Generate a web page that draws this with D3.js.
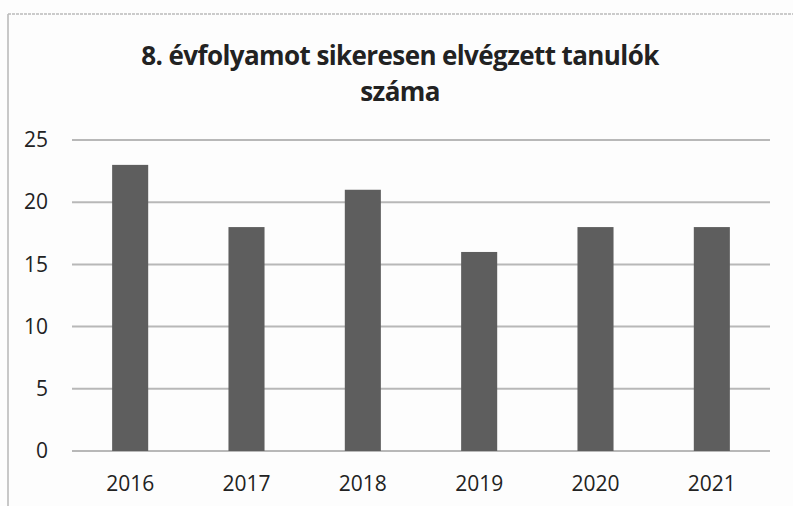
<!DOCTYPE html>
<html>
<head>
<meta charset="utf-8">
<script src="https://cdn.jsdelivr.net/npm/d3@7"></script>
<style>
  body { margin: 0; background: #fdfdfd; }
  text { font-family: "Open Sans", sans-serif; fill: #222; }
</style>
</head>
<body>
<svg class="root"></svg>
<script>
var years = ["2016", "2017", "2018", "2019", "2020", "2021"];
var students = [23, 18, 21, 16, 18, 18];
var yTicks = [0, 5, 10, 15, 20, 25];
var titleLines = ["8. évfolyamot sikeresen elvégzett tanulók", "száma"];

var W = 793, H = 506,
    margin = {top: 140, right: 23, bottom: 55, left: 72},
    width = W - margin.left - margin.right,
    height = 451 - margin.top;

var svg = d3.select(".root")
    .attr("width", W)
    .attr("height", H);

// frame of the scanned chart
svg.append("line")
    .attr("x1", 8).attr("x2", 8).attr("y1", 14).attr("y2", H)
    .style("stroke", "#c8c8c8").style("stroke-width", 2);
svg.append("line")
    .attr("x1", 8).attr("x2", W).attr("y1", 14).attr("y2", 14)
    .style("stroke", "#bbb").style("stroke-width", 1.5)
    .style("stroke-dasharray", "3,1");

// title, two lines
svg.selectAll(".title")
    .data(titleLines)
  .enter().append("text")
    .attr("class", "title")
    .attr("x", 400)
    .attr("y", (d, i) => 65 + i * 36)
    .attr("text-anchor", "middle")
    .style("font-size", "26px")
    .style("font-weight", "bold")
    .style("letter-spacing", "-0.6px")
    .text(d => d);

var g = svg.append("g")
    .attr("transform", "translate(" + margin.left + "," + margin.top + ")");

var x = d3.scaleBand()
    .domain(years)
    .range([0, width])
    .paddingInner(0.69)
    .paddingOuter(0.345);

var y = d3.scaleLinear()
    .domain([0, 25])
    .range([height, 0]);

g.selectAll(".grid")
    .data(yTicks)
  .enter().append("line")
    .attr("class", "grid")
    .attr("x1", 0).attr("x2", width)
    .attr("y1", d => y(d)).attr("y2", d => y(d))
    .style("stroke", "#b8b8b8")
    .style("stroke-width", 2);

var yAxis = d3.axisLeft(y).tickValues(yTicks).tickSize(0).tickPadding(24);
g.append("g")
    .call(yAxis)
    .call(a => a.select(".domain").remove())
    .selectAll("text")
    .style("font-size", "21px")
    .style("font-family", "'Open Sans', sans-serif")
    .attr("fill", "#222");

g.selectAll(".bar")
    .data(students)
  .enter().append("rect")
    .attr("class", "bar")
    .attr("x", (d, i) => x(years[i]))
    .attr("y", d => y(d))
    .attr("width", x.bandwidth())
    .attr("height", d => height - y(d))
    .style("fill", "#5e5e5e");

var xAxis = d3.axisBottom(x).tickSize(0).tickPadding(25);
g.append("g")
    .attr("transform", "translate(0," + height + ")")
    .call(xAxis)
    .call(a => a.select(".domain").remove())
    .selectAll("text")
    .style("font-size", "21px")
    .style("font-family", "'Open Sans', sans-serif")
    .attr("fill", "#222");
</script>
</body>
</html>
